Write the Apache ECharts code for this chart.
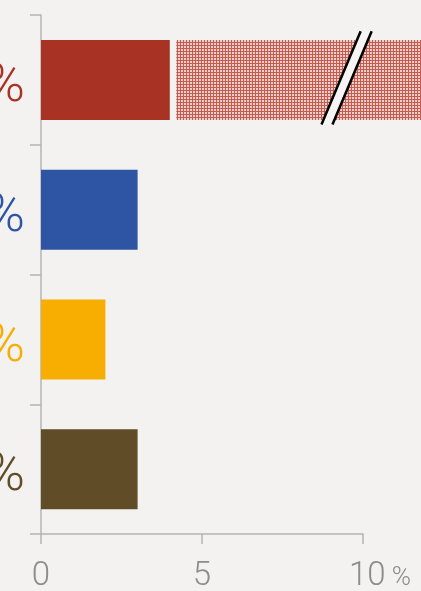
<!DOCTYPE html>
<html>
<head>
<meta charset="utf-8">
<script src="https://cdn.jsdelivr.net/npm/echarts@6/dist/echarts.min.js"></script>
<style>
html,body{margin:0;padding:0;background:#f3f2f0;}
#chart{width:421px;height:591px;}
</style>
</head>
<body>
<div id="chart"></div>
<script>
// ---- data ----
var categoryLabels = ['4 %', '3 %', '2 %', '3 %'];
var solidValues = [4, 3, 2, 3];
var gapValues = [0.2, 0, 0, 0];
var extendedValues = [20, 0, 0, 0];
var breakAt = [[9.49, 0]];
var xTicks = [0, 5, 10];
var barColors = ['#a83224', '#2e55a4', '#f7ae00', '#614c28'];

// pattern for the extended (broken) part
var pc = document.createElement('canvas');
pc.width = 3; pc.height = 3;
var g = pc.getContext('2d');
g.fillStyle = '#c55a4f'; g.fillRect(0, 0, 3, 3);
g.fillStyle = '#ecd0cb'; g.fillRect(1, 1, 2, 2);

var chart = echarts.init(document.getElementById('chart'), null, {renderer: 'canvas'});
var rich = {};
barColors.forEach(function (c, i) {
  rich['c' + i] = {color: c, fontSize: 53, fontFamily: 'Roboto', fontWeight: 300, padding: [16, 0, 0, 0]};
});

chart.setOption({
  backgroundColor: '#f3f2f0',
  animation: false,
  grid: {left: 41, top: 15, width: 322, bottom: 57, containLabel: false, outerBoundsMode: 'none'},
  xAxis: {
    type: 'value', min: 0, max: 10, interval: 5,
    axisLine: {show: true, lineStyle: {color: '#b4b4b4', width: 1.5}},
    axisTick: {show: true, length: 10, lineStyle: {color: '#b4b4b4', width: 1.5}},
    splitLine: {show: false},
    axisLabel: {
      margin: 26,
      formatter: function (v) {
        return v === xTicks[xTicks.length - 1] ? '{n2|' + v + '}{p| %}' : '{n|' + v + '}';
      },
      rich: {
        n: {fontSize: 33, fontFamily: 'Roboto', fontWeight: 300, color: '#8c8c8c'},
        n2: {fontSize: 33, fontFamily: 'Roboto', fontWeight: 300, color: '#8c8c8c', padding: [0, 0, 0, 34]},
        p: {fontSize: 26, fontFamily: 'Roboto', fontWeight: 300, color: '#8c8c8c', padding: [4, 0, 0, 0]}
      }
    }
  },
  yAxis: {
    type: 'category', inverse: true, data: categoryLabels,
    axisLine: {show: true, lineStyle: {color: '#b4b4b4', width: 1.5}},
    axisTick: {show: true, length: 11, lineStyle: {color: '#b4b4b4', width: 1.5}},
    axisLabel: {
      margin: 16,
      formatter: function (v, i) { return '{c' + i + '|' + v + '}'; },
      rich: rich
    }
  },
  series: [
    {
      type: 'bar', stack: 's', barWidth: 80, data: solidValues.map(function (v, i) {
        return {value: v, itemStyle: {color: barColors[i]}};
      })
    },
    {type: 'bar', stack: 's', barWidth: 80, data: gapValues, itemStyle: {color: 'rgba(0,0,0,0)'}},
    {type: 'bar', stack: 's', barWidth: 80, clip: false, data: extendedValues,
      itemStyle: {color: {image: pc, repeat: 'repeat'}}},
    {
      type: 'custom', clip: false, z: 10, data: breakAt,
      renderItem: function (params, api) {
        var p = api.coord([api.value(0), api.value(1)]);
        var bh = api.size([0, 1])[1];
        var hh = bh * 0.36;
        var dx = hh * 39 / 93;
        var sep = 5.5;
        var x = p[0], y = p[1] - 2;
        var l1 = [[x - sep - dx, y + hh], [x - sep + dx, y - hh]];
        var l2 = [[x + sep - dx, y + hh], [x + sep + dx, y - hh]];
        return {
          type: 'group',
          children: [
            {type: 'polygon', shape: {points: [l1[0], l1[1], l2[1], l2[0]]}, style: {fill: '#f6f5f3'}},
            {type: 'line', shape: {x1: l1[0][0], y1: l1[0][1], x2: l1[1][0], y2: l1[1][1]}, style: {stroke: '#000', lineWidth: 2.5}},
            {type: 'line', shape: {x1: l2[0][0], y1: l2[0][1], x2: l2[1][0], y2: l2[1][1]}, style: {stroke: '#000', lineWidth: 2.5}}
          ]
        };
      }
    }
  ]
});
</script>
</body>
</html>
